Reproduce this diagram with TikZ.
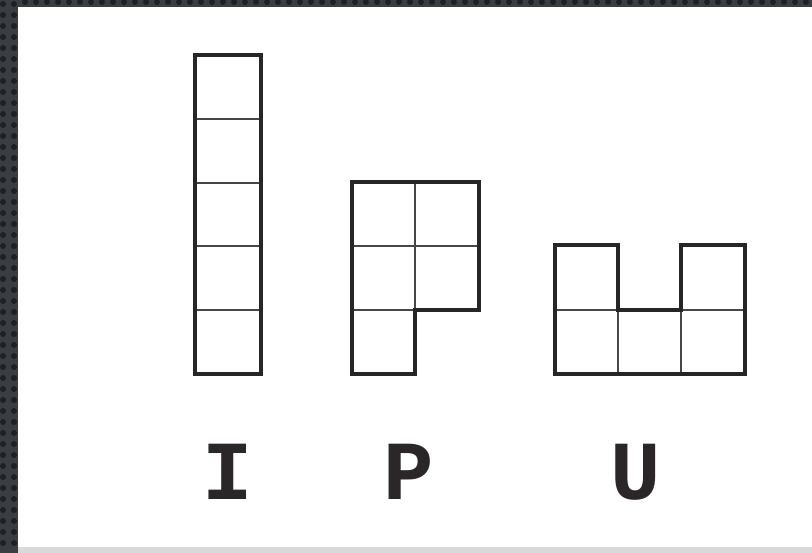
\documentclass[tikz,border=0pt]{standalone}
\usepackage{fontspec}
\newfontfamily\tilefont{Liberation Mono}
\usetikzlibrary{positioning}
\definecolor{framedark}{HTML}{3A3D42}
\definecolor{framedot}{HTML}{1E2024}
\definecolor{panelgrey}{HTML}{DADADA}
\definecolor{tileink}{HTML}{262626}
\definecolor{letterink}{HTML}{2B2627}
\tikzset{
  tileedge/.style={draw=tileink, line width=4.8pt, line join=miter},
  cellline/.style={draw=tileink!85, line width=1.8pt},
  tilelabel/.style={anchor=base, text=letterink, inner sep=0pt,
    font=\tilefont\bfseries\fontsize{84}{84}\selectfont},
}

\begin{document}
\begin{tikzpicture}[x=1pt,y=-1pt]
  \useasboundingbox (0,0) rectangle (812,553);
  % dark dotted frame
  \fill[framedark] (0,0) rectangle (812,553);
  \foreach \y in {4,15,...,553}
    \foreach \x in {3,14}
      \fill[framedot] (\x,\y) circle (3pt);
  \foreach \x in {25,36,...,812}
    \fill[framedot] (\x,2) circle (3pt);
  \fill[white] (18,7) rectangle (812,547);
  \fill[panelgrey] (18,547) rectangle (812,553);

  % I pentomino
  \foreach \y in {119,183,246,310}
    \draw[cellline] (195,\y) -- (261,\y);
  \draw[tileedge] (195,55) rectangle (261,374);

  % P pentomino
  \draw[cellline] (352,246) -- (479,246);
  \draw[cellline] (352,310) -- (415,310);
  \draw[cellline] (415,182) -- (415,310);
  \draw[tileedge] (352,182) -- (479,182) -- (479,310) -- (415,310)
    -- (415,374) -- (352,374) -- cycle;

  % U pentomino
  \draw[cellline] (555,310) -- (745,310);
  \foreach \x in {618,681}
    \draw[cellline] (\x,310) -- (\x,374);
  \draw[tileedge] (555,245) -- (618,245) -- (618,310) -- (681,310)
    -- (681,245) -- (745,245) -- (745,374) -- (555,374) -- cycle;

  % letters
  \node[tilelabel] (labelI) at (228,500) {I};
  \node[tilelabel] (labelP) at (409,500) {P};
  \node[tilelabel] (labelU) at (636,500) {U};
\end{tikzpicture}
\end{document}
